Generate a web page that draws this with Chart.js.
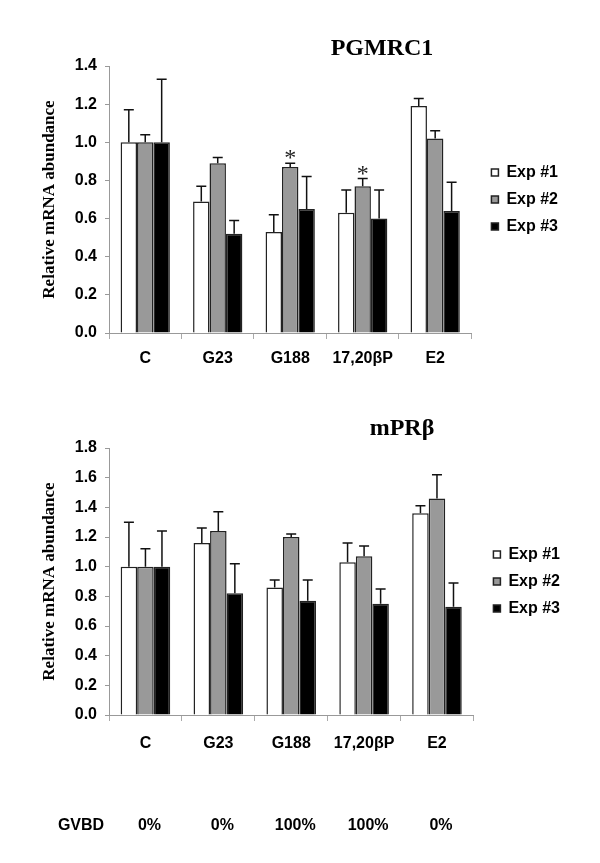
<!DOCTYPE html>
<html>
<head>
<meta charset="utf-8">
<script src="https://cdn.jsdelivr.net/npm/chart.js@4.4.0/dist/chart.umd.min.js"></script>
<style>
  body { margin: 0; background: #fff; }
  .box { position: absolute; left: 0; width: 600px; }
</style>
</head>
<body>
<div class="box" style="top:0;height:390px"><canvas id="chartTop"></canvas></div>
<div class="box" style="top:390px;height:473px"><canvas id="chartBottom"></canvas></div>
<script>
// categories / series
const categories = ['C', 'G23', 'G188', '17,20βP', 'E2'];
const seriesNames = ['Exp #1', 'Exp #2', 'Exp #3'];

// PGMRC1 values + upper error bars
const pgmrcExp1 = [1.00, 0.69, 0.53, 0.63, 1.19];
const pgmrcExp2 = [1.00, 0.89, 0.87, 0.77, 1.02];
const pgmrcExp3 = [1.00, 0.52, 0.65, 0.60, 0.64];
const pgmrcErr1 = [0.17, 0.08, 0.09, 0.12, 0.04];
const pgmrcErr2 = [0.04, 0.03, 0.02, 0.04, 0.04];
const pgmrcErr3 = [0.33, 0.07, 0.17, 0.15, 0.15];
const pgmrcStars2 = ['', '', '*', '*', ''];

// mPRbeta values + upper error bars
const mprExp1 = [1.00, 1.16, 0.86, 1.03, 1.36];
const mprExp2 = [1.00, 1.24, 1.20, 1.07, 1.46];
const mprExp3 = [1.00, 0.82, 0.77, 0.75, 0.73];
const mprErr1 = [0.30, 0.10, 0.05, 0.13, 0.05];
const mprErr2 = [0.12, 0.13, 0.02, 0.07, 0.16];
const mprErr3 = [0.24, 0.20, 0.14, 0.10, 0.16];

const gvbdLabels = ['0%', '0%', '100%', '100%', '0%'];

const sans = '"Liberation Sans", Arial, sans-serif';
const serif = '"Liberation Serif", "Times New Roman", serif';
const fills = ['#ffffff', '#999999', '#000000'];

function makeChart(id, cfg) {
  const errorBars = {
    id: 'errorBars',
    afterDatasetsDraw(chart) {
      const ctx = chart.ctx;
      const y = chart.scales.y;
      ctx.save();
      ctx.strokeStyle = '#111';
      ctx.lineWidth = 1.5;
      chart.data.datasets.forEach((ds, di) => {
        const meta = chart.getDatasetMeta(di);
        meta.data.forEach((bar, i) => {
          const top = y.getPixelForValue(ds.data[i] + ds.errors[i]);
          ctx.beginPath();
          ctx.moveTo(bar.x, bar.y);
          ctx.lineTo(bar.x, top);
          ctx.moveTo(bar.x - 5, top);
          ctx.lineTo(bar.x + 5, top);
          ctx.stroke();
          if (ds.stars && ds.stars[i]) {
            ctx.fillStyle = '#222';
            ctx.font = '24px ' + serif;
            ctx.textAlign = 'center';
            ctx.textBaseline = 'alphabetic';
            ctx.fillText(ds.stars[i], bar.x, top + 2);
          }
        });
      });
      ctx.restore();
    }
  };

  // keep legend centred on the plot area, nudged a bit right
  const legendPos = {
    id: 'legendPos',
    afterLayout(chart) {
      const lg = chart.legend;
      lg.top = chart.chartArea.top;
      lg.bottom = chart.chartArea.bottom;
      lg.left += 9;
      lg.right += 9;
    }
  };

  const overlay = {
    id: 'overlay',
    afterDraw(chart) {
      const ctx = chart.ctx;
      ctx.save();
      ctx.fillStyle = '#000';
      ctx.font = 'bold 24px ' + serif;
      ctx.textAlign = 'center';
      ctx.textBaseline = 'alphabetic';
      ctx.fillText(cfg.title, cfg.titleX, cfg.titleY);
      if (cfg.rowLabels) {
        const x = chart.scales.x;
        ctx.font = 'bold 16px ' + sans;
        ctx.textBaseline = 'middle';
        ctx.fillText('GVBD', 81, cfg.rowY);
        cfg.rowLabels.forEach((t, i) => {
          ctx.fillText(t, x.getPixelForValue(i) + 4, cfg.rowY);
        });
      }
      ctx.restore();
    }
  };

  return new Chart(document.getElementById(id), {
    type: 'bar',
    data: {
      labels: categories,
      datasets: cfg.values.map((v, i) => ({
        label: seriesNames[i],
        data: v,
        errors: cfg.errors[i],
        stars: cfg.stars ? cfg.stars[i] : null,
        backgroundColor: fills[i],
        borderColor: '#222',
        borderWidth: 1.5
      }))
    },
    options: {
      responsive: true,
      maintainAspectRatio: false,
      animation: false,
      layout: { padding: { top: cfg.padTop, right: cfg.padRight, left: 0, bottom: 0 } },
      datasets: { bar: { categoryPercentage: 0.68, barPercentage: 1 } },
      plugins: {
        legend: {
          position: 'right',
          labels: {
            boxWidth: 7, boxHeight: 7, padding: 11, color: '#000',
            font: { family: sans, size: 16, weight: 'bold' }
          }
        },
        tooltip: { enabled: false }
      },
      scales: {
        x: {
          grid: { drawOnChartArea: false, tickLength: 6, color: '#aaa' },
          border: { color: '#999' },
          ticks: { color: '#000', padding: cfg.xPad, font: { family: sans, size: 16, weight: 'bold' } },
          afterFit: s => { s.height = cfg.xHeight; }
        },
        y: {
          min: 0,
          max: cfg.max,
          ticks: {
            stepSize: 0.2, padding: 8, color: '#000',
            font: { family: sans, size: 16, weight: 'bold' },
            callback: v => v.toFixed(1)
          },
          grid: { drawOnChartArea: false, tickLength: 4, color: '#999' },
          border: { color: '#999' },
          title: {
            display: true, text: 'Relative mRNA abundance', color: '#000',
            font: { family: serif, size: 17, weight: 'bold' },
            padding: { top: 39, bottom: 0 }
          },
          afterFit: s => { s.width = 109; }
        }
      }
    },
    plugins: [errorBars, legendPos, overlay]
  });
}

makeChart('chartTop', {
  title: 'PGMRC1', titleX: 382, titleY: 55,
  values: [pgmrcExp1, pgmrcExp2, pgmrcExp3],
  errors: [pgmrcErr1, pgmrcErr2, pgmrcErr3],
  stars: [null, pgmrcStars2, null],
  max: 1.4, padTop: 66, padRight: 41, xHeight: 57, xPad: 10
});

makeChart('chartBottom', {
  title: 'mPRβ', titleX: 402, titleY: 45,
  values: [mprExp1, mprExp2, mprExp3],
  errors: [mprErr1, mprErr2, mprErr3],
  max: 1.8, padTop: 58, padRight: 39, xHeight: 148, xPad: 13,
  rowLabels: gvbdLabels, rowY: 436
});
</script>
</body>
</html>
